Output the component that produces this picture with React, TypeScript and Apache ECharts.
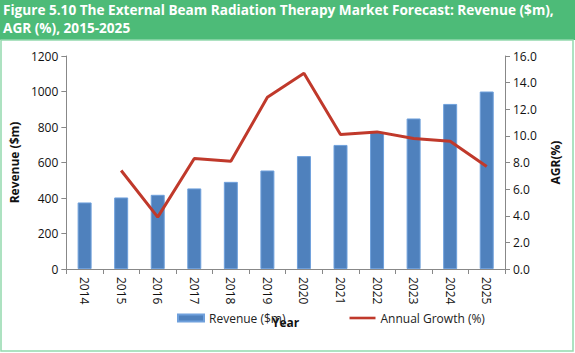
import React, { useEffect, useRef } from "react";
import * as echarts from "echarts";

const years = ["2014", "2015", "2016", "2017", "2018", "2019", "2020", "2021", "2022", "2023", "2024", "2025"];
const revenue = [375, 403, 418, 454, 491, 555, 636, 699, 772, 848, 930, 1000];
const growth: (number | null)[] = [null, 7.4, 3.9, 8.3, 8.1, 12.9, 14.7, 10.1, 10.3, 9.8, 9.6, 7.7];
const titleLines = [
  "Figure 5.10 The External Beam Radiation Therapy Market Forecast: Revenue ($m),",
  "AGR (%), 2015-2025",
];

const FONT = "'Open Sans', sans-serif";
const TITLE_FONT = "bold 13.6px 'Open Sans', sans-serif";

export default function App() {
  const ref = useRef<HTMLDivElement>(null);
  useEffect(() => {
    document.body.style.margin = "0";
    const chart = echarts.init(ref.current!, null, { renderer: "svg" });
    chart.setOption({
      animation: false,
      backgroundColor: "#ffffff",
      graphic: [
        { type: "rect", shape: { x: 0, y: 0, width: 575, height: 40 }, style: { fill: "#4dbb78" }, z: 0 },
        { type: "rect", shape: { x: 1, y: 40, width: 572, height: 311 }, style: { fill: "none", stroke: "#93d9ad", lineWidth: 1.5 }, z: 0 },
        { type: "text", x: 3, y: 2, style: { text: titleLines[0], fill: "#ffffff", font: TITLE_FONT }, z: 10 },
        { type: "text", x: 3, y: 20, style: { text: titleLines[1], fill: "#ffffff", font: TITLE_FONT }, z: 10 },
      ],
      grid: { left: 63, right: 70, top: 56, bottom: 84 },
      legend: {
        bottom: 24,
        left: 172,
        itemGap: 64,
        itemWidth: 26,
        itemHeight: 7,
        textStyle: { fontFamily: FONT, fontSize: 12, color: "#222" },
        data: [
          { name: "Revenue ($m)", icon: "rect" },
          { name: "Annual Growth (%)", icon: "path://M0,0 L30,0 L30,3 L0,3 Z", itemStyle: { color: "#c0392b" } },
        ],
      },
      xAxis: {
        type: "category",
        data: years,
        name: "Year",
        nameLocation: "middle",
        nameGap: 47,
        nameTextStyle: { fontFamily: FONT, fontWeight: "bold", fontSize: 12, color: "#111" },
        axisLine: { lineStyle: { color: "#888" } },
        axisTick: { show: true, alignWithLabel: false, lineStyle: { color: "#888" } },
        axisLabel: { rotate: -90, fontFamily: FONT, fontSize: 12, color: "#111", margin: 8 },
      },
      yAxis: [
        {
          type: "value",
          min: 0,
          max: 1200,
          interval: 200,
          name: "Revenue ($m)",
          nameLocation: "middle",
          nameGap: 44,
          nameTextStyle: { fontFamily: FONT, fontWeight: "bold", fontSize: 12, color: "#111" },
          axisLine: { show: true, lineStyle: { color: "#888" } },
          axisTick: { show: true, lineStyle: { color: "#888" } },
          splitLine: { show: false },
          axisLabel: { fontFamily: FONT, fontSize: 12, color: "#111", formatter: (v: number) => String(v) },
        },
        {
          type: "value",
          min: 0,
          max: 16,
          interval: 2,
          name: "AGR(%)",
          nameLocation: "middle",
          nameGap: 44,
          nameRotate: 90,
          nameTextStyle: { fontFamily: FONT, fontWeight: "bold", fontSize: 12, color: "#111" },
          axisLine: { show: true, lineStyle: { color: "#888" } },
          axisTick: { show: true, lineStyle: { color: "#888" } },
          splitLine: { show: false },
          axisLabel: { fontFamily: FONT, fontSize: 12, color: "#111", formatter: (v: number) => v.toFixed(1) },
        },
      ],
      series: [
        {
          name: "Revenue ($m)",
          type: "bar",
          data: revenue,
          barWidth: 14,
          itemStyle: { color: "#4f81bd", borderColor: "#6fa0dc", borderWidth: 1 },
        },
        {
          name: "Annual Growth (%)",
          type: "line",
          yAxisIndex: 1,
          data: growth,
          symbol: "none",
          lineStyle: { color: "#c0392b", width: 3 },
          itemStyle: { color: "#c0392b" },
        },
      ],
    });
    return () => chart.dispose();
  }, []);
  return <div ref={ref} style={{ position: "absolute", left: 0, top: 0, width: 575, height: 353 }} />;
}
